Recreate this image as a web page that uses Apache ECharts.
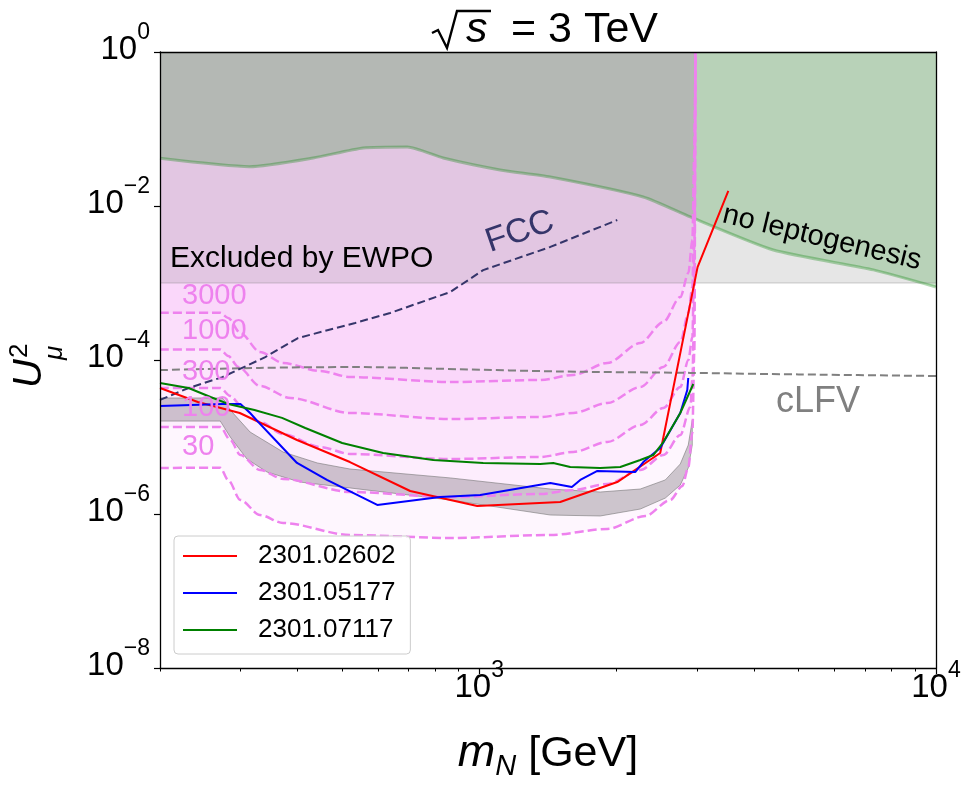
<!DOCTYPE html>
<html>
<head>
<meta charset="utf-8">
<title>sqrt(s) = 3 TeV</title>
<script src="https://cdn.jsdelivr.net/npm/echarts@6.0.0/dist/echarts.min.js"></script>
<style>
  html, body { margin: 0; padding: 0; background: #fff; }
  #chart { width: 972px; height: 786px; }
</style>
</head>
<body>
<div id="chart"></div>
<script>
// Axis ticks
var xMajorTicks = [1000, 10000];
var xMinorTicks = [200, 300, 400, 500, 600, 700, 800, 900, 2000, 3000, 4000, 5000, 6000, 7000, 8000, 9000];
var yMajorTicks = [1e-8, 1e-6, 1e-4, 1e-2, 1];

// Excluded regions (boundaries, filled up to U^2 = 1)
var ewpoBound = [[200, 1e-3], [10000, 1e-3]];
var leptoBound = [[200, 0.0416], [314, 0.0324], [433, 0.042], [557, 0.0567], [696, 0.0584], [834, 0.042],
  [1111, 0.0294], [1431, 0.0238], [2286, 0.0131], [2898, 0.0072], [4405, 0.00268], [7295, 0.00148], [10000, 0.000887]];

// Luminosity contours
var contourLevels = ['3000', '1000', '300', '100', '30'];
var c3000 = [[200, 4.1e-4], [271, 4.1e-4], [282, 3.51e-4], [300, 2.24e-4], [331, 1.27e-4], [372, 9.14e-5], [448, 7.19e-5],
  [522, 6.01e-5], [864, 5.18e-5], [1360, 5.5e-5], [1607, 6.39e-5], [1907, 9.14e-5], [2253, 1.66e-4], [2530, 3.11e-4],
  [2756, 6.58e-4], [2870, 1.35e-3], [2928, 3.62e-3], [2958, 0.0534], [2973, 1]];
var c1000 = [[200, 1.37e-4], [271, 1.37e-4], [282, 1.13e-4], [297, 8.11e-5], [331, 4.6e-5], [386, 3.21e-5], [522, 2.05e-5],
  [864, 1.71e-5], [1360, 1.82e-5], [1607, 2.05e-5], [1907, 2.76e-5], [2253, 4.46e-5], [2530, 8.11e-5], [2756, 1.71e-4],
  [2870, 4.08e-4], [2928, 8.87e-4], [2958, 0.012], [2973, 1]];
var c300 = [[200, 4.33e-5], [271, 4.33e-5], [285, 3.41e-5], [303, 2.45e-5], [331, 1.57e-5], [372, 1.09e-5], [448, 7.42e-6],
  [522, 6.01e-6], [864, 5.18e-6], [1360, 5.5e-6], [1607, 6.39e-6], [1907, 8.61e-6], [2253, 1.43e-5], [2530, 2.38e-5],
  [2756, 4.46e-5], [2870, 1.0e-4], [2928, 1.99e-4], [2958, 2.68e-3], [2973, 1]];
var c100 = [[200, 1.35e-5], [271, 1.35e-5], [285, 9.14e-6], [300, 5.84e-6], [331, 3.73e-6], [372, 2.85e-6], [522, 1.93e-6],
  [864, 1.66e-6], [1360, 1.82e-6], [1607, 2.05e-6], [1907, 2.45e-6], [2253, 3.73e-6], [2530, 5.84e-6], [2756, 1.06e-5],
  [2899, 2.45e-5], [2928, 5.5e-5], [2958, 6.01e-4], [2973, 1]];
var c30 = [[200, 3.96e-6], [271, 4.0e-6], [282, 2.76e-6], [300, 1.52e-6], [331, 9.7e-7], [372, 7.64e-7], [522, 5.34e-7],
  [864, 4.88e-7], [1430, 5.34e-7], [1907, 6.39e-7], [2310, 9.42e-7], [2620, 1.52e-6], [2784, 2.31e-6], [2870, 4.08e-6],
  [2928, 1.13e-5], [2958, 1.35e-4], [2973, 1]];
var contours = [c3000, c1000, c300, c100, c30];

// Gray band
var bandUpper = [[200, 3.21e-5], [274, 3.21e-5], [278, 2.9e-5], [285, 2.24e-5], [315, 1.16e-5], [372, 6.38e-6], [442, 4.6e-6],
  [521, 3.84e-6], [864, 2.94e-6], [1431, 2.11e-6], [1840, 1.93e-6], [2252, 2.11e-6], [2555, 2.77e-6], [2755, 4.46e-6],
  [2868, 7.87e-6], [2927, 1.66e-5]];
var bandLower = [[200, 1.61e-5], [271, 1.61e-5], [285, 1.0e-5], [310, 5.18e-6], [343, 3.51e-6], [405, 2.6e-6], [521, 2.18e-6],
  [864, 1.52e-6], [1431, 9.7e-7], [1840, 9.42e-7], [2252, 1.16e-6], [2555, 1.61e-6], [2755, 2.38e-6], [2868, 3.96e-6],
  [2927, 7.87e-6]];

// Other limits
var cLFV = [[200, 7.4e-5], [330, 7.9e-5], [535, 8.1e-5], [900, 7.6e-5], [1500, 7.1e-5], [2900, 6.8e-5], [5000, 6.5e-5], [10000, 6.2e-5]];
var fcc = [[200, 3.03e-5], [231, 4.33e-5], [274, 6.0e-5], [340, 1.09e-4], [401, 1.93e-4], [535, 3.03e-4], [638, 4.08e-4],
  [864, 7.64e-4], [1020, 1.47e-3], [1431, 2.94e-3], [2005, 6.58e-3]];

// Published limits
var legendNames = ['2301.02602', '2301.05177', '2301.07117'];
var red02602 = [[200, 4.33e-5], [242, 2.85e-5], [299, 2.05e-5], [399, 9.15e-6], [521, 4.73e-6], [706, 1.99e-6], [990, 1.27e-6],
  [1504, 1.43e-6], [2005, 2.6e-6], [2490, 6.2e-6], [3006, 1.61e-3], [3510, 0.0157]];
var blue05177 = [[200, 2.53e-5], [274, 2.69e-5], [300, 2.69e-5], [315, 2.05e-5], [328, 1.57e-5], [361, 8.61e-6], [399, 4.6e-6],
  [464, 2.77e-6], [598, 1.31e-6], [821, 1.66e-6], [1005, 1.77e-6], [1431, 2.53e-6], [1595, 2.24e-6], [1664, 2.77e-6],
  [1814, 3.62e-6], [2195, 3.51e-6], [2286, 4.73e-6], [2490, 7.2e-6], [2755, 2.05e-5], [2854, 4.07e-5], [2868, 5.83e-5]];
var green07117 = [[200, 5.02e-5], [231, 4.33e-5], [258, 3.31e-5], [282, 2.69e-5], [322, 2.24e-5], [370, 1.77e-5], [416, 1.31e-5],
  [501, 8.36e-6], [616, 6.19e-6], [793, 5.03e-6], [1020, 4.6e-6], [1360, 4.46e-6], [1452, 4.6e-6], [1582, 4.07e-6],
  [1840, 3.96e-6], [2036, 4.07e-6], [2252, 5.03e-6], [2405, 5.83e-6], [2530, 8.61e-6], [2755, 2.05e-5], [2942, 4.88e-5]];

document.addEventListener('DOMContentLoaded', function () {
  var chart = echarts.init(document.getElementById('chart'));
  var FONT = '"Liberation Sans", Arial, Helvetica, sans-serif';
  var VIOLET = '#ee82ee';

  // 10^n labels
  function powLabel(v) {
    var e = Math.round(Math.log10(v));
    return '{b|10}{e|' + (e < 0 ? '\u2212' + (-e) : e) + '}';
  }
  var powRich = {
    b: { fontSize: 33, fontFamily: FONT, color: '#000', lineHeight: 28, verticalAlign: 'bottom' },
    e: { fontSize: 23, fontFamily: FONT, color: '#000', lineHeight: 22, padding: [0, 0, 22, 0], verticalAlign: 'bottom' }
  };

  var series = [];

  // contour fills (drawn first, as the lowest layer)
  contours.forEach(function (c) {
    series.push({
      type: 'line', data: c, showSymbol: false, silent: true, z: 1,
      smooth: 0.3, smoothMonotone: 'x',
      lineStyle: { width: 0, opacity: 0 },
      areaStyle: { origin: 'end', color: 'rgba(238,130,238,0.075)', opacity: 1 }
    });
  });

  // EWPO excluded region
  series.push({
    type: 'line', data: ewpoBound, showSymbol: false, silent: true, z: 1,
    lineStyle: { color: 'rgba(128,128,128,0.25)', width: 1.5 },
    areaStyle: { origin: 'end', color: 'rgba(128,128,128,0.2)', opacity: 1 }
  });

  // no leptogenesis
  series.push({
    type: 'line', data: leptoBound, showSymbol: false, silent: true, z: 1,
    smooth: 0.2,
    lineStyle: { color: 'rgba(0,128,0,0.3)', width: 3 },
    areaStyle: { origin: 'end', color: 'rgba(0,128,0,0.2)', opacity: 1 }
  });

  // gray band between two curves
  series.push({
    type: 'custom', silent: true, z: 2, clip: true,
    data: [bandUpper[0]],
    renderItem: function (params, api) {
      var pts = bandUpper.map(function (p) { return api.coord(p); })
        .concat(bandLower.slice().reverse().map(function (p) { return api.coord(p); }));
      return {
        type: 'polygon',
        shape: { points: pts },
        style: { fill: 'rgba(120,112,120,0.36)', stroke: 'rgba(110,110,110,0.55)', lineWidth: 1 }
      };
    }
  });

  // contour dashed lines
  contours.forEach(function (c) {
    series.push({
      type: 'line', data: c, showSymbol: false, silent: true, z: 3,
      smooth: 0.3, smoothMonotone: 'x',
      lineStyle: { color: VIOLET, width: 2.5, type: [9, 4] }
    });
  });

  series.push({
    type: 'line', data: cLFV, showSymbol: false, silent: true, z: 4, smooth: 0.3,
    lineStyle: { color: '#808080', width: 2, type: [8, 4] }
  });
  series.push({
    type: 'line', data: fcc, showSymbol: false, silent: true, z: 4,
    lineStyle: { color: '#35356a', width: 2, type: [8, 4] }
  });

  [[red02602, 'red'], [blue05177, 'blue'], [green07117, 'green']].forEach(function (s, i) {
    series.push({
      name: legendNames[i], type: 'line', data: s[0], showSymbol: false, z: 5,
      itemStyle: { color: s[1] },
      lineStyle: { color: s[1], width: 2 }
    });
  });

  function txt(text, x, y, size, color, extra) {
    var el = {
      type: 'text', x: x, y: y, z: 100, silent: true,
      style: { text: text, fontSize: size, fontFamily: FONT, fill: color, textAlign: 'left', textVerticalAlign: 'middle' }
    };
    if (extra) {
      for (var k in extra.style || {}) el.style[k] = extra.style[k];
      if (extra.rotation !== undefined) el.rotation = extra.rotation;
    }
    return el;
  }

  var labelY = [296, 331, 372, 408, 447];
  var graphics = contourLevels.map(function (lv, i) { return txt(lv, 182, labelY[i], 29, VIOLET); });
  graphics.push(txt('Excluded by EWPO', 170, 259, 30, '#000'));
  graphics.push(txt('cLFV', 776, 402, 36, '#808080'));
  graphics.push(txt('FCC', 520, 232, 34, '#35356a', { style: { textAlign: 'center' }, rotation: 19 * Math.PI / 180 }));
  graphics.push(txt('no leptogenesis', 822, 238, 29, '#000', { style: { textAlign: 'center' }, rotation: -13.5 * Math.PI / 180 }));

  // title sqrt(s) = 3 TeV
  graphics.push({
    type: 'polyline', z: 100, silent: true,
    shape: { points: [[432, 33], [438, 30], [447, 48], [457, 11], [491, 11]] },
    style: { stroke: '#000', lineWidth: 2.4, fill: null }
  });
  graphics.push(txt('s', 466, 30, 43, '#000', { style: { fontStyle: 'italic' } }));
  graphics.push(txt('= 3 TeV', 511, 30, 43, '#000'));

  // y axis name U^2_mu
  graphics.push({
    type: 'group', x: 30, y: 388, rotation: Math.PI / 2, z: 100, silent: true,
    children: [
      { type: 'text', x: 0, y: 0, style: { text: 'U', fontSize: 40, fontStyle: 'italic', fontFamily: FONT, fill: '#000', textVerticalAlign: 'middle' } },
      { type: 'text', x: 30, y: -10, style: { text: '2', fontSize: 26, fontFamily: FONT, fill: '#000', textVerticalAlign: 'middle' } },
      { type: 'text', x: 28, y: 25, style: { text: '\u03bc', fontSize: 26, fontStyle: 'italic', fontFamily: FONT, fill: '#000', textVerticalAlign: 'middle' } }
    ]
  });

  // x axis name m_N [GeV]
  graphics.push({
    type: 'text', x: 548, y: 756, z: 100, silent: true,
    style: {
      text: '{m|m}{n|N}{g| [GeV]}', textAlign: 'center', textVerticalAlign: 'middle',
      rich: {
        m: { fontSize: 45, fontStyle: 'italic', fontFamily: FONT, fill: '#000', padding: [0, 0, 6, 0], verticalAlign: 'bottom' },
        n: { fontSize: 29, fontStyle: 'italic', fontFamily: FONT, fill: '#000', verticalAlign: 'bottom' },
        g: { fontSize: 43, fontFamily: FONT, fill: '#000', padding: [0, 0, 6, 0], verticalAlign: 'bottom' }
      }
    }
  });

  var option = {
    animation: false,
    backgroundColor: '#fff',
    grid: { left: 160, right: 36, top: 52, bottom: 118, outerBoundsMode: 'none', containLabel: false },
    legend: {
      data: legendNames, orient: 'vertical', left: 174, top: 536,
      icon: 'rect', itemWidth: 54, itemHeight: 2, itemGap: 7,
      padding: [5, 15, 9, 9], selectedMode: false,
      backgroundColor: 'rgba(255,255,255,0.8)', borderColor: '#cccccc', borderWidth: 1, borderRadius: 4,
      textStyle: { fontSize: 26, fontFamily: FONT, color: '#000', lineHeight: 30, padding: [0, 0, 0, 16] }
    },
    xAxis: [{
      type: 'log', logBase: 10, min: 200, max: 10000, position: 'bottom', z: 10,
      axisLine: { show: true, lineStyle: { color: '#000', width: 1.3 } },
      axisTick: { show: true, customValues: xMajorTicks, length: 6, lineStyle: { color: '#000', width: 1.2 } },
      axisLabel: { customValues: xMajorTicks, formatter: powLabel, rich: powRich, margin: 8 },
      splitLine: { show: false }
    }, {
      type: 'log', logBase: 10, min: 200, max: 10000, position: 'bottom', z: 10,
      axisLine: { show: false },
      axisTick: { show: true, customValues: xMinorTicks, length: 3.5, lineStyle: { color: '#000', width: 1 } },
      axisLabel: { show: false }, splitLine: { show: false }
    }, {
      type: 'log', logBase: 10, min: 200, max: 10000, position: 'top', z: 10,
      axisLine: { show: true, lineStyle: { color: '#000', width: 1.3 } },
      axisTick: { show: false }, axisLabel: { show: false }, splitLine: { show: false }
    }],
    yAxis: [{
      type: 'log', logBase: 10, min: 1e-8, max: 1, position: 'left', z: 10,
      axisLine: { show: true, lineStyle: { color: '#000', width: 1.3 } },
      axisTick: { show: true, customValues: yMajorTicks, length: 6, lineStyle: { color: '#000', width: 1.2 } },
      axisLabel: { customValues: yMajorTicks, formatter: powLabel, rich: powRich, margin: 10 },
      splitLine: { show: false }
    }, {
      type: 'log', logBase: 10, min: 1e-8, max: 1, position: 'right', z: 10,
      axisLine: { show: true, lineStyle: { color: '#000', width: 1.3 } },
      axisTick: { show: false }, axisLabel: { show: false }, splitLine: { show: false }
    }],
    graphic: graphics,
    series: series
  };

  chart.setOption(option);
});
</script>
</body>
</html>
